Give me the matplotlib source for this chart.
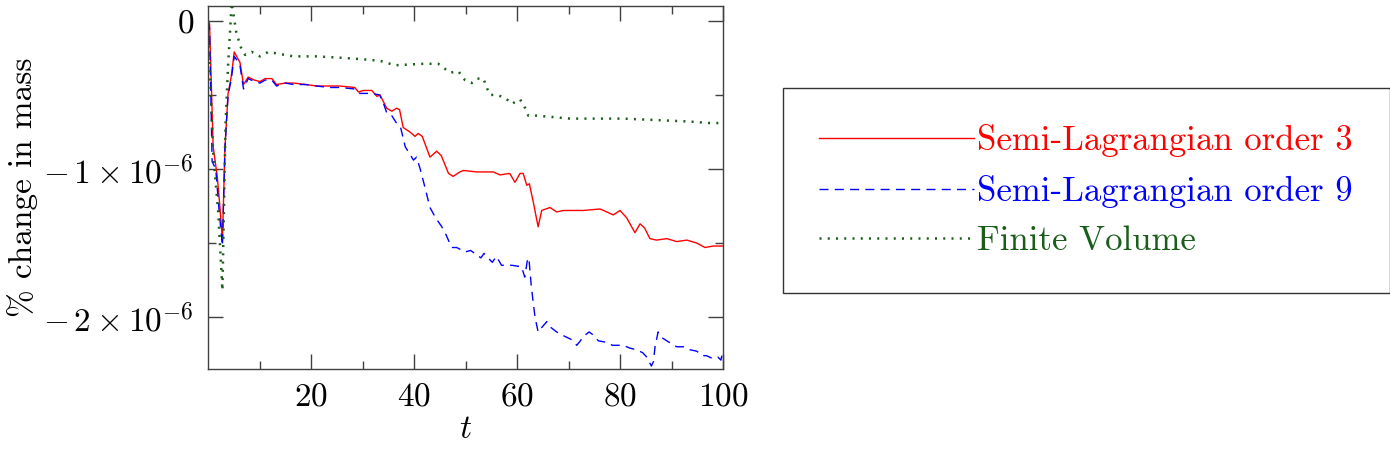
import numpy as np
import matplotlib
matplotlib.use("Agg")
import matplotlib.pyplot as plt
from matplotlib.ticker import FixedLocator, FixedFormatter

plt.rcParams['font.family'] = 'serif'
plt.rcParams['font.serif'] = ['cmr10']
plt.rcParams['mathtext.fontset'] = 'cm'
plt.rcParams['axes.formatter.use_mathtext'] = True

# values in units of 1e-6 (% change in mass)
t_sl3 = [0, 0.3, 1.0, 1.8, 2.3, 2.8, 3.3, 3.9, 4.5, 5.1, 5.7, 6.2, 6.9, 7.8,
         9.0, 10.1, 11.1, 12.4, 13.3, 15.0, 16.6, 19.0, 21.1, 23.5, 25.6, 28.5,
         29.2, 30.2, 31.8, 32.8, 33.4, 34.7, 35.7, 36.6, 37.2, 37.9, 39.2, 40.2,
         40.8, 41.6, 43.1, 44.4, 45.3, 46.7, 47.6, 48.9, 49.6, 52.2, 55.4, 56.7,
         58.6, 59.6, 60.6, 61.2, 61.9, 62.4, 63.2, 64.1, 64.8, 66.4, 67.7, 69.0,
         72.9, 76.1, 76.8, 78.7, 80.0, 81.3, 82.9, 83.9, 84.8, 85.8, 87.1, 89.1,
         91.0, 93.0, 94.9, 96.5, 98.1, 100]
v_sl3 = [0, -0.02, -0.85, -1.05, -1.25, -1.48, -0.85, -0.49, -0.38, -0.21, -0.25, -0.28, -0.43, -0.38,
         -0.40, -0.41, -0.39, -0.39, -0.43, -0.42, -0.42, -0.43, -0.44, -0.44, -0.44, -0.45,
         -0.48, -0.47, -0.47, -0.51, -0.50, -0.59, -0.61, -0.59, -0.60, -0.72, -0.75, -0.78,
         -0.76, -0.78, -0.92, -0.88, -0.91, -1.03, -1.05, -1.02, -1.01, -1.02, -1.02, -1.04,
         -1.03, -1.09, -1.03, -1.03, -1.11, -1.10, -1.23, -1.39, -1.28, -1.26, -1.29, -1.28,
         -1.28, -1.27, -1.28, -1.31, -1.28, -1.33, -1.43, -1.37, -1.40, -1.47, -1.48, -1.47,
         -1.49, -1.48, -1.50, -1.53, -1.52, -1.52]

t_sl9 = [0, 0.3, 0.8, 1.5, 2.2, 2.8, 3.3, 3.9, 4.5, 5.1, 5.7, 6.2, 6.9, 7.8,
         9.0, 10.1, 11.1, 12.4, 13.3, 15.0, 16.6, 19.0, 21.1, 23.5, 25.6, 28.5,
         29.5, 31.8, 33.3, 34.0, 34.7, 35.5, 36.6, 37.4, 38.3, 39.9, 40.5, 41.2,
         42.1, 43.1, 44.2, 45.4, 46.3, 47.3, 48.3, 49.9, 51.0, 52.2, 53.0, 53.6,
         54.4, 55.2, 56.0, 57.0, 59.0, 60.9, 61.5, 62.0, 62.3, 62.8, 63.5, 64.1,
         64.8, 65.8, 66.6, 67.7, 69.3, 70.5, 71.6, 72.3, 72.9, 74.0, 74.8, 75.8,
         77.4, 78.5, 80.6, 82.0, 83.2, 84.4, 85.2, 86.1, 86.5, 86.8, 87.4, 88.2,
         89.1, 91.0, 92.3, 93.6, 94.9, 96.0, 96.8, 98.0, 99.0, 99.6, 100]
v_sl9 = [0, -0.05, -0.95, -1.00, -1.30, -1.52, -0.85, -0.50, -0.40, -0.24, -0.27, -0.30, -0.46, -0.39,
         -0.41, -0.42, -0.40, -0.40, -0.44, -0.42, -0.43, -0.43, -0.44, -0.45, -0.45, -0.46,
         -0.49, -0.49, -0.50, -0.55, -0.62, -0.63, -0.69, -0.72, -0.85, -0.94, -0.92, -1.00,
         -1.12, -1.26, -1.33, -1.39, -1.45, -1.53, -1.53, -1.56, -1.55, -1.58, -1.60, -1.57,
         -1.60, -1.63, -1.59, -1.65, -1.65, -1.66, -1.73, -1.62, -1.60, -1.80, -2.00, -2.10,
         -2.07, -2.03, -2.07, -2.10, -2.13, -2.15, -2.19, -2.16, -2.13, -2.10, -2.12, -2.16,
         -2.17, -2.19, -2.19, -2.21, -2.22, -2.24, -2.27, -2.33, -2.30, -2.20, -2.10, -2.14,
         -2.16, -2.20, -2.20, -2.22, -2.23, -2.26, -2.26, -2.28, -2.27, -2.29, -2.22]

t_fv = [0, 1.0, 2.0, 2.8, 3.4, 3.9, 4.6, 5.5, 6.4, 7.2, 8.5, 10.1, 11.7, 16.6,
        21.0, 26.2, 30.2, 33.4, 36.3, 41.8, 44.7, 47.0, 48.6, 49.9, 51.2, 52.2,
        53.5, 54.1, 54.8, 56.1, 57.7, 59.0, 60.6, 61.6, 62.2, 63.8, 67.1, 70.3,
        75.8, 80.6, 87.1, 93.6, 97.5, 100]
v_fv = [0, -0.89, -1.30, -1.82, -0.70, -0.30, 0.12, -0.08, -0.18, -0.23, -0.21, -0.24, -0.21, -0.24,
        -0.24, -0.25, -0.26, -0.27, -0.30, -0.29, -0.29, -0.35, -0.34, -0.40, -0.42, -0.39,
        -0.39, -0.45, -0.50, -0.50, -0.52, -0.56, -0.53, -0.59, -0.64, -0.64, -0.65, -0.66,
        -0.66, -0.66, -0.67, -0.68, -0.69, -0.69]

labels = ['Semi-Lagrangian order 3', 'Semi-Lagrangian order 9', 'Finite Volume']
colors = ['#ff0000', '#0000ff', '#1a5e1a']

fig = plt.figure(figsize=(13.9, 4.53), dpi=100)
ax = fig.add_axes([208/1390, 1-369/453, (723-208)/1390, (369-6)/453])

scale = 1e-6
l1, = ax.plot(t_sl3, np.array(v_sl3)*scale, '-', color=colors[0], lw=1.0, label=labels[0])
l2, = ax.plot(t_sl9, np.array(v_sl9)*scale, color=colors[1], lw=1.0,
              dashes=(6.5, 4.5), label=labels[1])
l3, = ax.plot(t_fv, np.array(v_fv)*scale, color=colors[2], lw=1.8,
              dashes=(0.8, 2.5), label=labels[2])

ax.set_xlim(0, 100)
ax.set_ylim(-2.35e-6, 0.1e-6)

ax.xaxis.set_major_locator(FixedLocator([20, 40, 60, 80, 100]))
ax.xaxis.set_minor_locator(FixedLocator([10, 30, 50, 70, 90]))
ax.yaxis.set_major_locator(FixedLocator([-2e-6, -1e-6, 0]))
ax.yaxis.set_minor_locator(FixedLocator([-1.5e-6, -0.5e-6]))
ax.yaxis.set_major_formatter(FixedFormatter([r'$-\,2\times10^{-6}$', r'$-\,1\times10^{-6}$', r'$0$']))
ax.xaxis.set_major_formatter(FixedFormatter([r'$20$', r'$40$', r'$60$', r'$80$', r'$100$']))

ax.tick_params(which='both', direction='in', top=True, right=True,
               labelsize=24, color='#404040', width=1.0)
ax.tick_params(which='major', length=11, pad=10)
ax.tick_params(which='minor', length=6)
for s in ax.spines.values():
    s.set_color('#404040')
    s.set_linewidth(1.0)

ax.set_xlabel(r'$t$', fontsize=24, labelpad=2)
ax.set_ylabel('% change in mass', fontsize=24)
ax.yaxis.set_label_coords(-0.330, 0.5)

leg = fig.legend(handles=[l1, l2, l3], loc='upper left',
                 bbox_to_anchor=(783/1390, 1-88/453), bbox_transform=fig.transFigure,
                 fontsize=25, frameon=True, fancybox=False, framealpha=1,
                 edgecolor='#333333', borderpad=1.05, borderaxespad=0,
                 handlelength=4.45, handletextpad=0.1, labelspacing=0.5,
                 labelcolor='linecolor')
leg.get_frame().set_linewidth(1.0)

fig.savefig('out.png', dpi=100)
